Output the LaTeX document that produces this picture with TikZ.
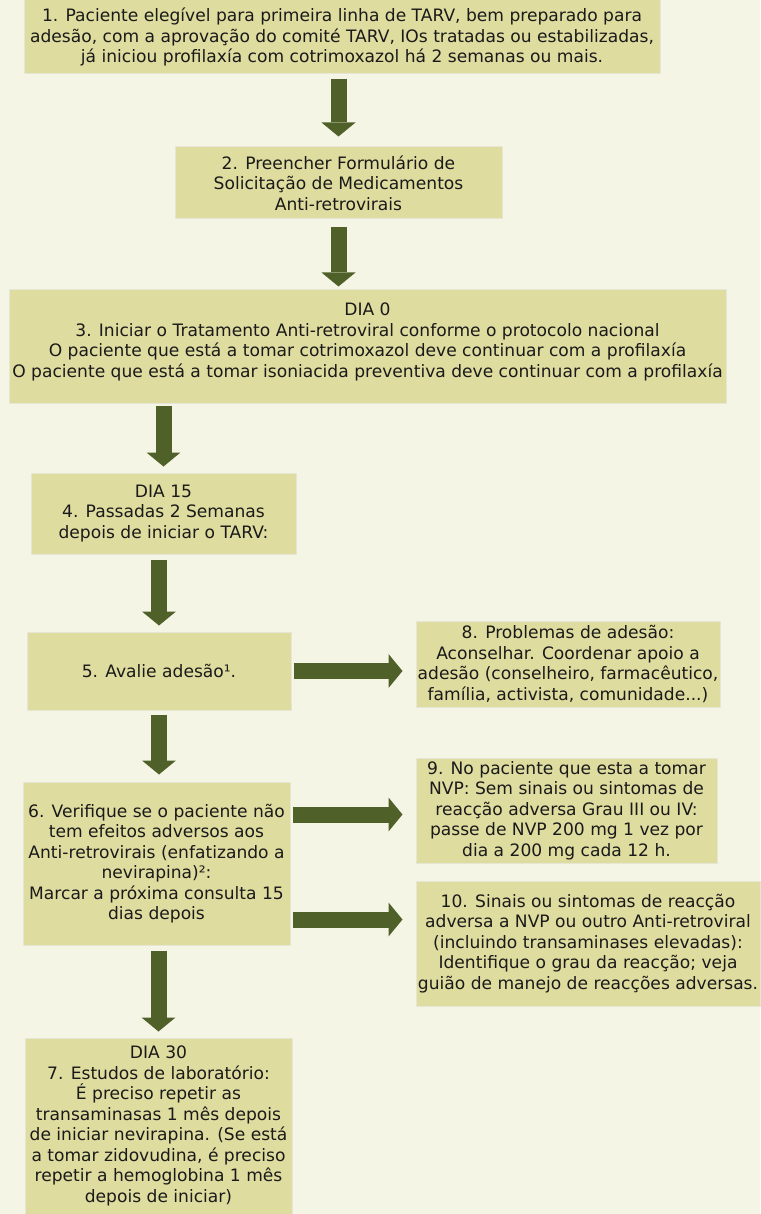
\documentclass[tikz,border=0pt]{standalone}
\usepackage{fontspec}
\setmainfont{DejaVu Sans}
\usetikzlibrary{arrows.meta}
\definecolor{bgcream}{HTML}{F5F5E6}
\definecolor{boxkhaki}{HTML}{DFDC9F}
\definecolor{boxedge}{HTML}{E6E6D6}
\definecolor{arrowolive}{HTML}{4F6128}
\definecolor{textdark}{HTML}{1A1A1A}

\begin{document}
\begin{tikzpicture}[x=1pt, y=-1pt,
    stepbox/.style={draw=boxedge, line width=1pt, fill=boxkhaki, text=textdark,
        align=center, inner sep=0pt, font=\fontsize{17.1}{20.5}\selectfont},
    bigarrow/.style={draw=arrowolive, line width=16pt,
        -{Triangle[length=14pt, width=34pt, line width=0pt]},
        shorten <=5pt, shorten >=6pt}]

    % Page
    \fill[bgcream] (0,0) rectangle (760,1214);
    \useasboundingbox (0,0) rectangle (760,1214);

    % Main column
    \node[stepbox, minimum width=636pt, minimum height=74pt] (b1) at (342,37)
        {1. Paciente elegível para primeira linha de TARV, bem preparado para\\
         adesão, com a aprovação do comité TARV, IOs tratadas ou estabilizadas,\\
         já iniciou profilaxía com cotrimoxazol há 2 semanas ou mais.};
    \node[stepbox, minimum width=327pt, minimum height=72pt] (b2) at (338.5,183)
        {2. Preencher Formulário de\\Solicitação de Medicamentos\\Anti-retrovirais};
    \node[stepbox, minimum width=717pt, minimum height=113pt, text depth=13pt] (b3) at (367.5,346.5)
        {DIA 0\\
         3. Iniciar o Tratamento Anti-retroviral conforme o protocolo nacional\\
         O paciente que está a tomar cotrimoxazol deve continuar com a profilaxía\\
         O paciente que está a tomar isoniacida preventiva deve continuar com a profilaxía};
    \node[stepbox, minimum width=265pt, minimum height=81pt] (b4) at (163.5,513.5)
        {DIA 15\\4. Passadas 2 Semanas\\depois de iniciar o TARV:};
    \node[stepbox, minimum width=264pt, minimum height=78pt] (b5) at (159,671)
        {5. Avalie adesão¹.};
    \node[stepbox, minimum width=267pt, minimum height=163pt] (b6) at (156.5,863.5)
        {6. Verifique se o paciente não\\tem efeitos adversos aos\\
         Anti-retrovirais (enfatizando a\\nevirapina)²:\\
         Marcar a próxima consulta 15\\dias depois};
    \node[stepbox, minimum width=267pt, minimum height=176pt] (b7) at (158.5,1126)
        {DIA 30\\7. Estudos de laboratório:\\É preciso repetir as\\
         transaminasas 1 mês depois\\de iniciar nevirapina. (Se está\\
         a tomar zidovudina, é preciso\\repetir a hemoglobina 1 mês\\depois de iniciar)};

    % Side boxes
    \node[stepbox, minimum width=304pt, minimum height=86pt] (b8) at (568,664)
        {8. Problemas de adesão:\\Aconselhar. Coordenar apoio a\\
         adesão (conselheiro, farmacêutico,\\família, activista, comunidade...)};
    \node[stepbox, minimum width=301pt, minimum height=105pt] (b9) at (566.5,810.5)
        {9. No paciente que esta a tomar\\NVP: Sem sinais ou sintomas de\\
         reacção adversa Grau III ou IV:\\passe de NVP 200 mg 1 vez por\\
         dia a 200 mg cada 12 h.};
    \node[stepbox, minimum width=344pt, minimum height=125pt] (b10) at (588,943.5)
        {10. Sinais ou sintomas de reacção\\adversa a NVP ou outro Anti-retroviral\\
         (incluindo transaminases elevadas):\\Identifique o grau da reacção; veja\\
         guião de manejo de reacções adversas.};

    % Down arrows
    \draw[bigarrow, shorten >=10pt] (b1.south -| b2.north) -- (b2.north);
    \draw[bigarrow, shorten <=8pt, shorten >=3pt] (b2.south) -- (b2.south |- b3.north);
    \draw[bigarrow, shorten <=2pt] (b3.south -| b4.north) -- (b4.north);
    \draw[bigarrow] (b4.south -| b5.north) -- (b5.north);
    \draw[bigarrow, shorten <=4pt, shorten >=7pt] (b5.south) -- (b5.south |- b6.north);
    \draw[bigarrow] (b6.south -| b7.north) -- (b7.north);

    % Side arrows
    \draw[bigarrow, shorten <=2pt, shorten >=13pt] (b5.east) -- (b5.east -| b8.west);
    \draw[bigarrow, shorten <=2pt, shorten >=13pt] ([yshift=49pt]b6.east) -- ([yshift=49pt]b6.east -| b9.west);
    \draw[bigarrow, shorten <=2pt, shorten >=13pt] ([yshift=-56pt]b6.east) -- ([yshift=-56pt]b6.east -| b10.west);
\end{tikzpicture}
\end{document}
